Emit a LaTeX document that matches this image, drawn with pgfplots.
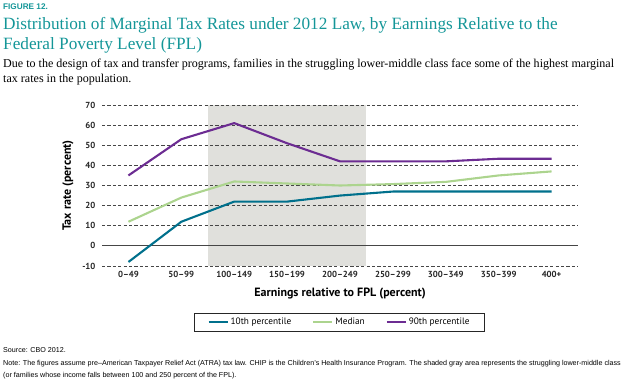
\documentclass[border=0pt]{standalone}
\usepackage{fontspec}
\setmainfont{Liberation Serif}
\newfontfamily\axfont{PT Sans}
\newfontfamily\notefont{Liberation Sans}
\usepackage{pgfplots}
\pgfplotsset{compat=1.18}
\definecolor{tealT}{RGB}{20,150,152}
\definecolor{c10}{RGB}{0,112,140}
\definecolor{cmed}{RGB}{172,212,142}
\definecolor{c90}{RGB}{108,44,146}
\definecolor{shade}{RGB}{224,224,220}
\definecolor{gridc}{RGB}{70,70,70}
\begin{document}
\begin{tikzpicture}[x=1pt,y=1pt]
\useasboundingbox (0,0) rectangle (626,384);
\node[anchor=base west, inner sep=0, text=tealT, font=\notefont\bfseries\fontsize{8.2}{9}\selectfont] at (3,384-10) {FIGURE 12.};
\node[anchor=base west, inner sep=0, text=tealT, font=\fontsize{17.25}{20}\selectfont] at (3,384-29) {Distribution of Marginal Tax Rates under 2012 Law, by Earnings Relative to the};
\node[anchor=base west, inner sep=0, text=tealT, font=\fontsize{17.25}{20}\selectfont] at (3,384-49) {Federal Poverty Level (FPL)};
\node[anchor=base west, inner sep=0, font=\fontsize{12.05}{14}\selectfont] at (3,384-67) {Due to the design of tax and transfer programs, families in the struggling lower-middle class face some of the highest marginal};
\node[anchor=base west, inner sep=0, font=\fontsize{12.05}{14}\selectfont] at (3,384-82) {tax rates in the population.};
\node[anchor=base west, inner sep=0, font=\notefont\fontsize{7.15}{8}\selectfont] at (3,384-352) {Source: CBO 2012.};
\node[anchor=base west, inner sep=0, font=\notefont\fontsize{7.15}{8}\selectfont] at (3,384-365) {Note: The figures assume pre–American Taxpayer Relief Act (ATRA) tax law. CHIP is the Children’s Health Insurance Program. The shaded gray area represents the struggling lower-middle class};
\node[anchor=base west, inner sep=0, font=\notefont\fontsize{7.15}{8}\selectfont] at (3,384-377) {(or families whose income falls between 100 and 250 percent of the FPL).};
\begin{axis}[
  at={(102pt,118pt)}, anchor=south west,
  scale only axis, width=476pt, height=161pt,
  xmin=-0.5, xmax=8.5, ymin=-10, ymax=70,
  axis line style={draw=none},
  major tick length=0pt,
  xtick={0,1,2,3,4,5,6,7,8},
  xticklabels={0–49,50–99,100–149,150–199,200–249,250–299,300–349,350–399,400+},
  ytick={-10,0,10,20,30,40,50,60,70},
  yticklabels={-10,0,10,20,30,40,50,60,70},
  tick label style={font=\axfont\bfseries\fontsize{8.8}{10}\selectfont, text=black!85},
  y tick label style={xshift=-3pt},
  x tick label style={yshift=-2pt},
  xlabel={Earnings relative to FPL (percent)},
  ylabel={Tax rate (percent)},
  label style={font=\axfont\bfseries\fontsize{12}{14}\selectfont},
  xlabel style={at={(axis description cs:0.5,-0.168)}, anchor=center},
  ylabel style={at={(axis description cs:-0.0714,0.5)}, anchor=center},
  clip=false,
  legend columns=3,
  legend style={at={(axis description cs:0.499,-0.348)}, anchor=center,
    draw=black!85, line width=0.8pt, font=\axfont\fontsize{9.3}{11}\selectfont,
    inner xsep=13pt, inner ysep=3pt,
    /tikz/every even column/.append style={column sep=19pt}},
  legend image code/.code={\draw[#1] (0pt,0pt) -- (19pt,0pt);},
]
\addplot[fill=shade, draw=none, forget plot] coordinates {(1.5,-10) (1.5,70) (4.5,70) (4.5,-10)} -- cycle;
\pgfplotsinvokeforeach{-10,10,20,30,40,50,60,70}{
  \addplot[forget plot, gridc, line width=0.9pt, dash pattern=on 3.2pt off 2.2pt] coordinates {(-0.5,#1) (8.5,#1)};
}
\addplot[forget plot, gridc, line width=0.9pt] coordinates {(-0.5,0) (8.5,0)};
\addplot[c10, line width=2.1pt] coordinates {(0,-8) (1,12) (2,22) (3,22) (4,25) (5,27) (6,27) (7,27) (8,27)};
\addlegendentry{10th percentile}
\addplot[cmed, line width=2.1pt] coordinates {(0,12) (1,24) (2,32) (3,31) (4,30) (5,30.7) (6,31.8) (7,35) (8,37)};
\addlegendentry{Median}
\addplot[c90, line width=2.1pt] coordinates {(0,35) (1,53) (2,61) (3,51) (4,42) (5,42) (6,42) (7,43.3) (8,43.3)};
\addlegendentry{90th percentile}
\end{axis}
\end{tikzpicture}
\end{document}
